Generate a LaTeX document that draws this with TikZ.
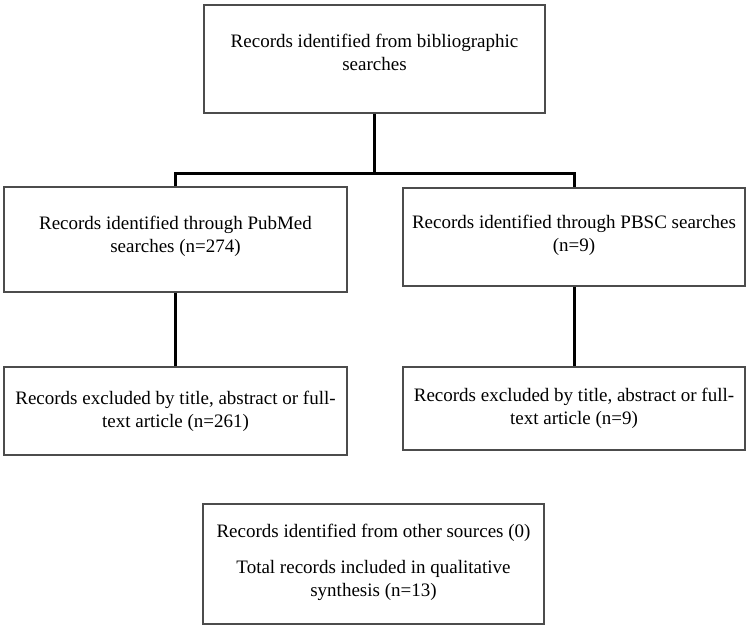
\documentclass[tikz,border=0pt]{standalone}
\usepackage{fontspec}
\setmainfont{Liberation Serif}
\usetikzlibrary{positioning}
\begin{document}
\begin{tikzpicture}[x=1pt,y=-1pt,
        box/.style={draw=black!70,line width=1.3pt,align=center,inner sep=0pt,
                    font=\fontsize{19}{23}\selectfont},
        link/.style={line width=3pt,black}]
        \useasboundingbox (0,0) rectangle (750,630);
        \node[box,minimum width=341pt,minimum height=108pt] (biblio) at (374.5,59)
            {Records identified from bibliographic\\searches\\[-9pt]};
        \node[box,minimum width=343pt,minimum height=105pt] (pubmed) at (175.5,239.5)
            {Records identified through PubMed\\searches (n=274)\\[-13pt]};
        \node[box,minimum width=342pt,minimum height=98pt] (pbsc) at (574,237)
            {Records identified through PBSC searches\\(n=9)\\[-15pt]};
        \node[box,minimum width=343pt,minimum height=88pt] (pubexcl) at (175.5,411)
            {Records excluded by title, abstract or full-\\text article (n=261)};
        \node[box,minimum width=342pt,minimum height=83pt] (pbscexcl) at (574,408.5)
            {Records excluded by title, abstract or full-\\text article (n=9)};
        \node[box,minimum width=341pt,minimum height=120pt] (other) at (373.5,564)
            {Records identified from other sources (0)\\[13pt]
             Total records included in qualitative\\synthesis (n=13)\\[-16pt]};
        \draw[link] (biblio.south) -- ++(0,60) coordinate (split);
        \draw[link] (split) -| (pubmed.north);
        \draw[link] (split) -| (pbsc.north);
        \draw[link] (pubmed) -- (pubexcl);
        \draw[link] (pbsc) -- (pbscexcl);
    \end{tikzpicture}
\end{document}
